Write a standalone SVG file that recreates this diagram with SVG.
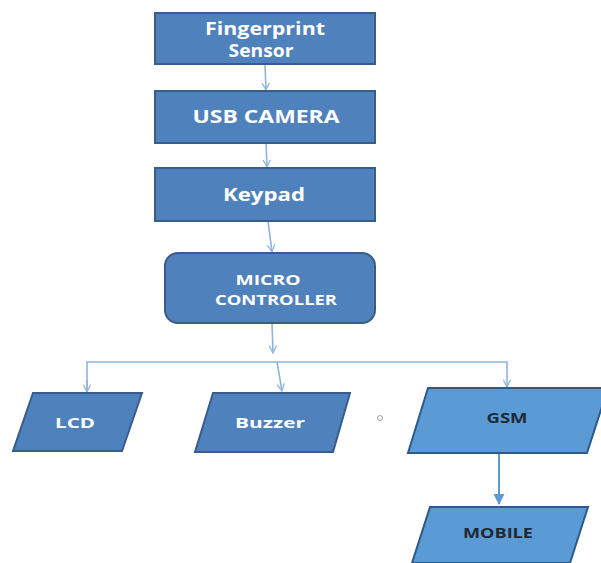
<svg xmlns="http://www.w3.org/2000/svg" width="601" height="563" viewBox="0 0 601 563">
  <defs>
    <style>
      .box { fill: #4f81bd; stroke: #385d8a; stroke-width: 2; }
      .out { fill: #5b9bd5; stroke: #2e5a87; stroke-width: 2; }
      .lbl { font-family: "Open Sans", "Liberation Sans", sans-serif; font-weight: bold; fill: #ffffff; text-anchor: middle; }
      .dark { fill: #1f2a36; }
      .wire { fill: none; stroke: #8fb4dc; stroke-width: 1.6; }
      .wire2 { fill: none; stroke: #5b9bd5; stroke-width: 2; }
    </style>
    <marker id="open" viewBox="0 0 10 10" refX="9" refY="5" markerWidth="9" markerHeight="9" orient="auto" markerUnits="userSpaceOnUse">
      <path d="M1,1 L9,5 L1,9" fill="none" stroke="#8fb4dc" stroke-width="1.4"/>
    </marker>
    <marker id="solid" viewBox="0 0 10 10" refX="9" refY="5" markerWidth="11" markerHeight="11" orient="auto" markerUnits="userSpaceOnUse">
      <path d="M0,0 L10,5 L0,10 Z" fill="#5b9bd5"/>
    </marker>
  </defs>

  <rect width="601" height="563" fill="#ffffff"/>

  <g id="connectors">
    <line class="wire" x1="265" y1="64" x2="266" y2="90" marker-end="url(#open)"/>
    <line class="wire" x1="266" y1="143" x2="267" y2="167" marker-end="url(#open)"/>
    <line class="wire" x1="268" y1="221" x2="272" y2="252" marker-end="url(#open)"/>
    <line class="wire" x1="272" y1="323" x2="273" y2="353" marker-end="url(#open)"/>
    <path class="wire" d="M87,392 L87,362 L507,362 L507,387" marker-end="url(#open)"/>
    <line class="wire" x1="87" y1="380" x2="87" y2="392" marker-end="url(#open)"/>
    <line class="wire" x1="277" y1="362" x2="282" y2="391" marker-end="url(#open)"/>
    <line class="wire2" x1="499" y1="453" x2="499" y2="504" marker-end="url(#solid)"/>
  </g>

  <g id="fingerprint">
    <rect class="box" x="155" y="13" width="220" height="51"/>
    <text class="lbl" x="265" y="35" font-size="17" textLength="120" lengthAdjust="spacingAndGlyphs">Fingerprint</text>
    <text class="lbl" x="261" y="57" font-size="17" textLength="65" lengthAdjust="spacingAndGlyphs">Sensor</text>
  </g>

  <g id="usb-camera">
    <rect class="box" x="155" y="91" width="220" height="52"/>
    <text class="lbl" x="266" y="123" font-size="17" textLength="147" lengthAdjust="spacingAndGlyphs">USB CAMERA</text>
  </g>

  <g id="keypad">
    <rect class="box" x="155" y="168" width="220" height="53"/>
    <text class="lbl" x="264" y="201" font-size="17" textLength="82" lengthAdjust="spacingAndGlyphs">Keypad</text>
  </g>

  <g id="micro-controller">
    <rect class="box" x="165" y="253" width="210" height="70" rx="13" ry="13"/>
    <text class="lbl" x="268" y="285" font-size="14" textLength="65" lengthAdjust="spacingAndGlyphs">MICRO</text>
    <text class="lbl" x="276" y="305" font-size="14" textLength="122" lengthAdjust="spacingAndGlyphs">CONTROLLER</text>
  </g>

  <g id="lcd">
    <polygon class="box" points="33,393 142,393 122,451 13,451"/>
    <text class="lbl" x="75" y="428" font-size="15" textLength="40" lengthAdjust="spacingAndGlyphs">LCD</text>
  </g>

  <g id="buzzer">
    <polygon class="box" points="213,393 350,393 333,452 195,452"/>
    <text class="lbl" x="270" y="428" font-size="15" textLength="70" lengthAdjust="spacingAndGlyphs">Buzzer</text>
  </g>

  <circle cx="380" cy="418" r="2.5" fill="none" stroke="#a0a0a0" stroke-width="1"/>

  <g id="gsm">
    <polygon class="out" points="428,388 608,388 587,453 408,453"/>
    <text class="lbl dark" x="507" y="423" font-size="15" textLength="41" lengthAdjust="spacingAndGlyphs">GSM</text>
  </g>

  <g id="mobile">
    <polygon class="out" points="430,507 588,507 570,563 412,563"/>
    <text class="lbl dark" x="498" y="538" font-size="15" textLength="70" lengthAdjust="spacingAndGlyphs">MOBILE</text>
  </g>
</svg>
